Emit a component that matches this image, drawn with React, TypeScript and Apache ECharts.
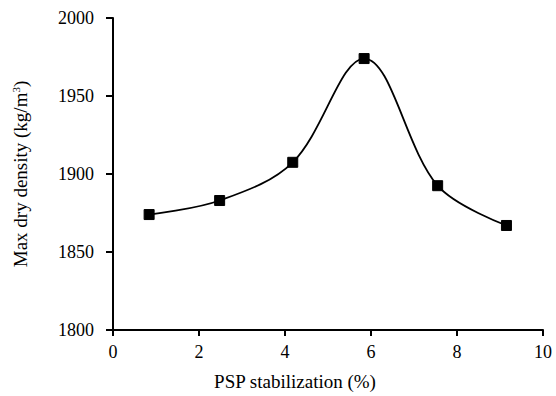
import React, { useEffect, useRef } from "react";
import * as echarts from "echarts";

const stabilization = [0.84, 2.48, 4.18, 5.84, 7.55, 9.15];
const density = [1874, 1883, 1907.5, 1974, 1892.5, 1867];
const xTicks = { min: 0, max: 10, interval: 2 };
const yTicks = { min: 1800, max: 2000, interval: 50 };

const FONT = "'Liberation Serif', 'Times New Roman', Times, serif";

export default function App() {
  const ref = useRef<HTMLDivElement>(null);
  useEffect(() => {
    const chart = echarts.init(ref.current!, null, { renderer: "svg" });
    const axisLine = { show: true, lineStyle: { color: "#000", width: 2 } };
    chart.setOption({
      animation: false,
      backgroundColor: "#fff",
      textStyle: { fontFamily: FONT },
      grid: { left: 113, right: 13, top: 18, bottom: 65, containLabel: false },
      xAxis: {
        type: "value",
        min: xTicks.min,
        max: xTicks.max,
        interval: xTicks.interval,
        name: "PSP stabilization (%)",
        nameLocation: "middle",
        nameGap: 42,
        nameTextStyle: { fontFamily: FONT, fontSize: 19, color: "#000", padding: [0, 66, 0, 0] },
        axisLine,
        axisTick: { show: true, inside: false, length: 6, lineStyle: { color: "#000", width: 2 } },
        axisLabel: { fontFamily: FONT, fontSize: 18, color: "#000", margin: 13, formatter: (v: number) => String(v) },
        splitLine: { show: false },
      },
      yAxis: {
        type: "value",
        min: yTicks.min,
        max: yTicks.max,
        interval: yTicks.interval,
        name: "Max dry density (kg/m{sup|3})",
        nameLocation: "middle",
        nameGap: 83,
        nameTextStyle: {
          fontFamily: FONT,
          fontSize: 19,
          color: "#000",
          rich: { sup: { fontFamily: FONT, fontSize: 11, color: "#000", verticalAlign: "top", padding: [0, 0, 9, 0] } },
        },
        axisLine,
        axisTick: { show: true, inside: false, length: 7, lineStyle: { color: "#000", width: 2 } },
        axisLabel: { fontFamily: FONT, fontSize: 18, color: "#000", margin: 19, formatter: (v: number) => String(v) },
        splitLine: { show: false },
      },
      series: [
        {
          type: "line",
          data: stabilization.map((x, i) => [x, density[i]]),
          smooth: 0.35,
          symbol: "rect",
          symbolSize: 10,
          showAllSymbol: true,
          lineStyle: { color: "#000", width: 1.8 },
          itemStyle: { color: "#000", borderColor: "#000" },
          z: 3,
        },
      ],
    });
    return () => chart.dispose();
  }, []);
  return <div ref={ref} style={{ width: 556, height: 396, position: "absolute", left: 0, top: 0 }} />;
}
